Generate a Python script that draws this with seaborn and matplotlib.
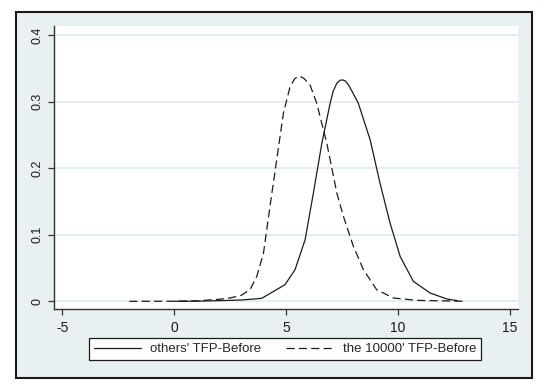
import matplotlib
matplotlib.use("Agg")
import matplotlib.pyplot as plt
import seaborn as sns
import pandas as pd
from matplotlib.patches import Rectangle

# ---- data ----
series_names = ["others' TFP-Before", "the 10000' TFP-Before"]

others_x = [0.0, 1.0, 2.0, 3.0, 3.92, 4.96, 5.41, 5.86, 6.23, 6.61, 6.98, 7.12,
            7.28, 7.42, 7.54, 7.66, 7.80, 8.00, 8.24, 8.77, 9.21, 9.66, 10.11,
            10.70, 11.45, 12.20, 12.68]
others_y = [0.0, 0.0003, 0.001, 0.002, 0.0045, 0.025, 0.0475, 0.0925, 0.1625,
            0.2375, 0.2975, 0.316, 0.3275, 0.332, 0.3325, 0.331, 0.325, 0.313,
            0.2975, 0.2425, 0.1775, 0.1175, 0.0675, 0.030, 0.0125, 0.0035, 0.001]

top_x = [-2.0, 0.0, 1.0, 2.0, 2.5, 3.0, 3.40, 3.70, 4.00, 4.29, 4.59, 4.89,
         5.19, 5.40, 5.60, 5.80, 6.08, 6.38, 6.83, 6.98, 7.28, 7.57, 8.02,
         8.47, 9.06, 9.81, 10.85, 13.05]
top_y = [0.0, 0.0002, 0.0008, 0.003, 0.005, 0.009, 0.0175, 0.0375, 0.0725,
         0.1425, 0.2125, 0.2825, 0.3225, 0.3345, 0.3385, 0.335, 0.325, 0.2975,
         0.2375, 0.2125, 0.1625, 0.128, 0.0825, 0.0475, 0.0175, 0.005, 0.0015, 0.0]

x_ticks = [-5, 0, 5, 10, 15]
y_ticks = [0, 0.1, 0.2, 0.3, 0.4]
y_tick_labels = ["0", "0.1", "0.2", "0.3", "0.4"]

df = pd.concat([
    pd.DataFrame({"x": others_x, "y": others_y, "series": series_names[0]}),
    pd.DataFrame({"x": top_x, "y": top_y, "series": series_names[1]}),
], ignore_index=True)

sns.set_theme(style="white")
plt.rcParams["font.family"] = ["Liberation Sans", "DejaVu Sans"]

W, H = 550, 389
fig = plt.figure(figsize=(W / 100, H / 100), dpi=100, facecolor="white")

# outer graph region (Stata-like light bluish background with dark frame)
frame = Rectangle((16 / W, 1 - 378 / H), (532 - 16) / W, (378 - 12) / H,
                  transform=fig.transFigure, facecolor="#e8f0f1",
                  edgecolor="#1a1a1a", linewidth=1.5, zorder=-10)
fig.patches.append(frame)

ax = fig.add_axes([53.5 / W, 1 - 309 / H, (518 - 53.5) / W, (309 - 26) / H])
ax.set_zorder(1)
ax.set_facecolor("white")

sns.lineplot(data=df, x="x", y="y", style="series", style_order=series_names,
             dashes={series_names[0]: "", series_names[1]: (6.5, 3.4)},
             color="#1c1c1c", linewidth=0.9, estimator=None, sort=False,
             ax=ax, legend=False)

ax.set_xlim(-5.39, 15.38)
ax.set_ylim(-0.0115, 0.4135)
ax.set_xticks(x_ticks)
ax.set_xticklabels([str(t) for t in x_ticks])
ax.set_yticks(y_ticks)
ax.set_yticklabels(y_tick_labels, rotation=90, va="center")
ax.set_xlabel("")
ax.set_ylabel("")

ax.grid(False)
for yv in y_ticks:
    ax.axhline(yv, color="#e4edef", linewidth=1.4, zorder=0)

for s in ["top", "right"]:
    ax.spines[s].set_visible(False)
for s in ["left", "bottom"]:
    ax.spines[s].set_color("#333333")
    ax.spines[s].set_linewidth(1.0)

ax.tick_params(axis="both", which="major", direction="out", length=4,
               width=0.9, color="#333333", labelcolor="#1a1a1a",
               bottom=True, left=True)
ax.tick_params(axis="x", pad=4.5, labelsize=10)
ax.tick_params(axis="y", pad=3, labelsize=9)

handles = [
    plt.Line2D([], [], color="#1c1c1c", linewidth=0.9, linestyle="-"),
    plt.Line2D([], [], color="#1c1c1c", linewidth=0.9, dashes=(6.5, 3.4)),
]
leg = fig.legend(handles, series_names, loc="center",
                 bbox_to_anchor=(89 / W, 1 - 361 / H, (481 - 89) / W, (361 - 337) / H),
                 mode="expand", ncol=2, frameon=True, fancybox=False,
                 fontsize=9.5, handlelength=3.6, handletextpad=0.7,
                 borderpad=0.35, columnspacing=1.9, borderaxespad=0)
leg.get_frame().set_edgecolor("#1a1a1a")
leg.get_frame().set_linewidth(0.9)
leg.get_frame().set_facecolor("white")
leg.get_frame().set_alpha(1)
leg.set_zorder(2)

fig.savefig("out.png", dpi=100, facecolor="white")
